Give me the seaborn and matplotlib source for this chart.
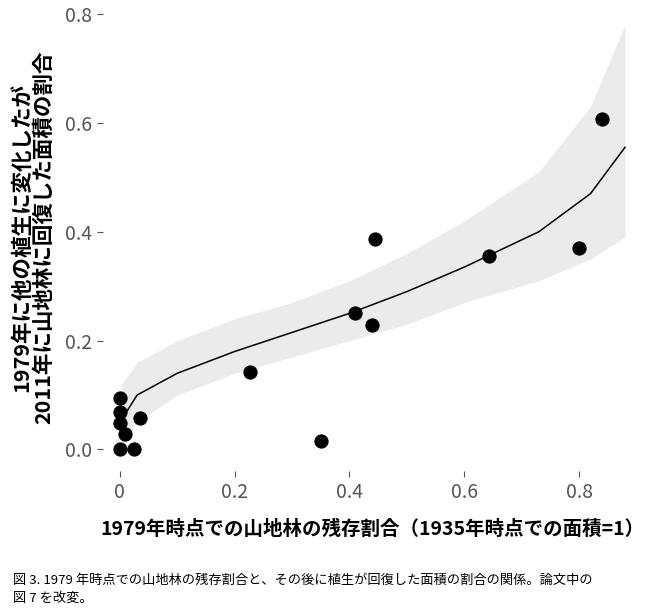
import numpy as np
import pandas as pd
import matplotlib
matplotlib.use("Agg")
import matplotlib.pyplot as plt
import seaborn as sns

plt.rcParams["font.family"] = "Noto Sans CJK JP"

# observed points
remain_1935 = [0.0, 0.0, 0.0, 0.0, 0.008, 0.025, 0.035, 0.227, 0.35, 0.41, 0.44, 0.445, 0.643, 0.80, 0.84]
recovered = [0.0, 0.048, 0.068, 0.095, 0.028, 0.0, 0.057, 0.142, 0.016, 0.25, 0.228, 0.387, 0.356, 0.37, 0.607]

# fitted curve and confidence band
fit_x = [0.003, 0.03, 0.1, 0.2, 0.3, 0.4, 0.5, 0.6, 0.73, 0.82, 0.88]
fit_y = [0.055, 0.10, 0.14, 0.18, 0.215, 0.25, 0.29, 0.335, 0.40, 0.47, 0.555]
fit_lo = [0.01, 0.05, 0.10, 0.14, 0.17, 0.20, 0.23, 0.27, 0.31, 0.35, 0.39]
fit_hi = [0.12, 0.16, 0.20, 0.24, 0.27, 0.31, 0.36, 0.42, 0.51, 0.63, 0.78]

pts = pd.DataFrame({"x": remain_1935, "y": recovered})
fit = pd.DataFrame({"x": fit_x, "y": fit_y})

fig = plt.figure(figsize=(6.5, 6.12), dpi=100)
ax = fig.add_axes([0.158, 0.23, 0.83, 0.765])

ax.fill_between(fit_x, fit_lo, fit_hi, color="#ebebeb", lw=0)
sns.lineplot(data=fit, x="x", y="y", color="black", lw=1.1, ax=ax)
sns.scatterplot(data=pts, x="x", y="y", color="black", s=90, edgecolor="black", ax=ax, zorder=3)

ax.set_xlim(-0.03, 0.91)
ax.set_ylim(-0.04, 0.82)
ax.set_xticks([0, 0.2, 0.4, 0.6, 0.8])
ax.set_xticklabels(["0", "0.2", "0.4", "0.6", "0.8"])
ax.set_yticks([0, 0.2, 0.4, 0.6, 0.8])
ax.set_yticklabels(["0.0", "0.2", "0.4", "0.6", "0.8"])
for s in ax.spines.values():
    s.set_visible(False)
ax.tick_params(labelsize=14, colors="#555555", length=4)
ax.set_xlabel("1979年時点での山地林の残存割合（1935年時点での面積=1）",
              fontsize=14, fontweight="bold", labelpad=12)
ax.set_ylabel("1979年に他の植生に変化したが\n2011年に山地林に回復した面積の割合",
              fontsize=15.5, fontweight="bold", labelpad=8, linespacing=1.05)

fig.text(0.02, 0.012, "図 3. 1979 年時点での山地林の残存割合と、その後に植生が回復した面積の割合の関係。論文中の\n図 7 を改変。",
         fontsize=9.5, va="bottom", linespacing=1.5)

fig.savefig("out.png", dpi=100)
